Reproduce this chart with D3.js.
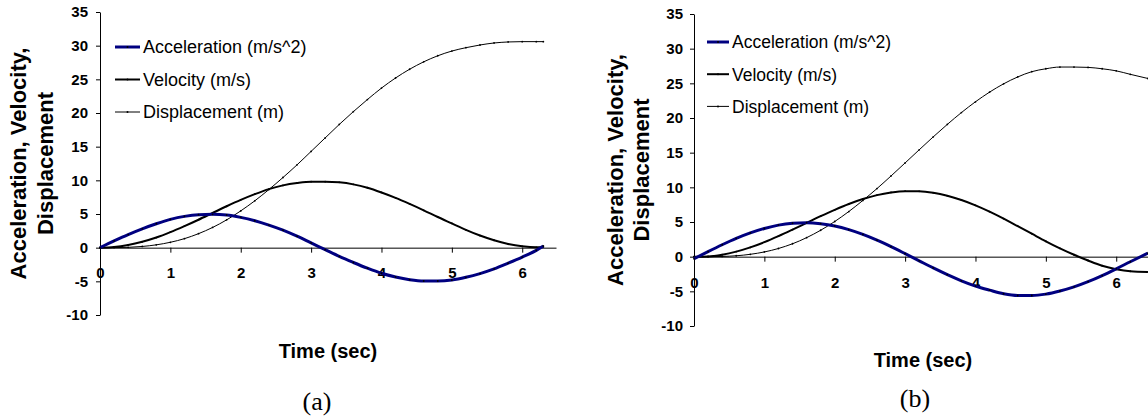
<!DOCTYPE html>
<html>
<head>
<meta charset="utf-8">
<script src="https://cdn.jsdelivr.net/npm/d3@7"></script>
<style>
  body { margin: 0; background: #fff; }
  svg { display: block; }
  .axis path, .axis line { stroke: #000; stroke-width: 1; }
  .axis text { font-family: "Liberation Sans", Arial, sans-serif; font-weight: bold; font-size: 15px; fill: #000; }
</style>
</head>
<body>
<svg id="chart"></svg>
<script>
// time samples (sec)
var timeA = [0, 0.2, 0.4, 0.6, 0.8, 1.0, 1.2, 1.4, 1.6, 1.8, 2.0, 2.2, 2.4, 2.6, 2.8, 3.0, 3.2,
             3.4, 3.6, 3.8, 4.0, 4.2, 4.4, 4.6, 4.8, 5.0, 5.2, 5.4, 5.6, 5.8, 6.0, 6.2, 6.3];
var timeB = [0, 0.2, 0.4, 0.6, 0.8, 1.0, 1.2, 1.4, 1.6, 1.8, 2.0, 2.2, 2.4, 2.6, 2.8, 3.0, 3.2,
             3.4, 3.6, 3.8, 4.0, 4.2, 4.4, 4.6, 4.8, 5.0, 5.2, 5.4, 5.6, 5.8, 6.0, 6.2, 6.45];

// panel (a)
var accelA = [0, 1.0, 1.95, 2.8, 3.55, 4.2, 4.65, 4.9, 4.95, 4.85, 4.5, 4.0, 3.35, 2.6, 1.7, 0.7, -0.3,
              -1.3, -2.2, -3.05, -3.8, -4.35, -4.75, -4.95, -4.95, -4.8, -4.4, -3.85, -3.15, -2.3, -1.4, -0.4, 0.25];
var velA = [0, 0.1, 0.4, 0.87, 1.5, 2.3, 3.2, 4.15, 5.15, 6.15, 7.1, 7.95, 8.7, 9.25, 9.6, 9.8, 9.8,
            9.7, 9.4, 8.9, 8.2, 7.4, 6.5, 5.55, 4.55, 3.6, 2.65, 1.8, 1.1, 0.55, 0.2, 0.05, 0.1];
var dispA = [0, 0.01, 0.05, 0.18, 0.42, 0.8, 1.34, 2.08, 3.0, 4.13, 5.46, 6.96, 8.63, 10.42, 12.3, 14.3, 16.3,
             18.3, 20.2, 22.0, 23.7, 25.2, 26.5, 27.6, 28.5, 29.2, 29.7, 30.1, 30.4, 30.55, 30.6, 30.6, 30.6];

// panel (b)
var accelB = [-0.3, 0.73, 1.72, 2.64, 3.43, 4.07, 4.55, 4.82, 4.9, 4.76, 4.43, 3.9, 3.21, 2.38, 1.44, 0.43, -0.6,
              -1.63, -2.6, -3.48, -4.24, -4.83, -5.35, -5.6, -5.6, -5.4, -4.95, -4.35, -3.6, -2.72, -1.75, -0.73, 0.5];
var velB = [0, 0.04, 0.29, 0.73, 1.34, 2.09, 2.96, 3.9, 4.87, 5.84, 6.76, 7.6, 8.31, 8.88, 9.26, 9.45, 9.43,
            9.21, 8.78, 8.17, 7.4, 6.49, 5.48, 4.4, 3.31, 2.22, 1.2, 0.28, -0.55, -1.3, -1.8, -2.1, -2.2];
var dispB = [0, 0.0, 0.03, 0.13, 0.34, 0.68, 1.18, 1.86, 2.74, 3.81, 5.07, 6.51, 8.11, 9.82, 11.64, 13.52, 15.41,
             17.28, 19.08, 20.78, 22.34, 23.73, 24.93, 25.92, 26.68, 27.1, 27.35, 27.35, 27.3, 27.1, 26.8, 26.3, 25.7];

var seriesNames = ["Acceleration (m/s^2)", "Velocity (m/s)", "Displacement (m)"];
var xTicks = [0, 1, 2, 3, 4, 5, 6];
var yTicks = [-10, -5, 0, 5, 10, 15, 20, 25, 30, 35];

var seriesStyle = [
  {color: "#000080", width: 3},
  {color: "#000", width: 2},
  {color: "#000", width: 1}
];

var svg = d3.select("#chart").attr("width", 1148).attr("height", 419);

function plain(d) { return String(d); }

function drawPanel(p) {
  var x = d3.scaleLinear().domain([0, 6.48]).range([p.left, p.left + 456]);
  var y = d3.scaleLinear().domain([-10, 35]).range([p.bottom, p.top]);

  var g = svg.append("g");

  g.append("g")
    .attr("class", "axis")
    .attr("transform", "translate(" + p.left + ",0)")
    .call(d3.axisLeft(y).tickValues(yTicks).tickFormat(plain)
      .tickSize(4).tickSizeOuter(0).tickPadding(p.yPad));

  g.append("g")
    .attr("class", "axis")
    .attr("transform", "translate(0," + y(0) + ")")
    .call(d3.axisBottom(x).tickValues(xTicks).tickFormat(plain)
      .tickSize(5).tickSizeOuter(0).tickPadding(p.xPad));

  var series = [p.accel, p.vel, p.disp];
  var line = d3.line()
    .x(function(d){ return x(d[0]); })
    .y(function(d){ return y(d[1]); })
    .curve(d3.curveMonotoneX);

  // displacement first, acceleration on top
  [2, 1, 0].forEach(function(k){
    var pts = p.time.map(function(t, i){ return [t, series[k][i]]; });
    g.append("path")
      .datum(pts)
      .attr("fill", "none")
      .attr("stroke", seriesStyle[k].color)
      .attr("stroke-width", seriesStyle[k].width)
      .attr("stroke-linejoin", "round")
      .attr("d", line);
    g.selectAll(null)
      .data(pts)
      .enter()
      .append("circle")
      .attr("cx", function(d){ return x(d[0]); })
      .attr("cy", function(d){ return y(d[1]); })
      .attr("r", 0.9)
      .attr("fill", "#000");
  });

  // legend
  seriesNames.forEach(function(name, k){
    var ly = p.legY + k * p.legStep;
    g.append("line")
      .attr("x1", p.legX).attr("x2", p.legX + p.legLen)
      .attr("y1", ly).attr("y2", ly)
      .attr("stroke", seriesStyle[k].color)
      .attr("stroke-width", seriesStyle[k].width);
    g.append("circle")
      .attr("cx", p.legX + p.legLen / 2).attr("cy", ly)
      .attr("r", 1).attr("fill", "#000");
    g.append("text")
      .attr("x", p.legX + p.legLen + 3)
      .attr("y", ly)
      .attr("dy", "0.36em")
      .style("font-family", "'Liberation Sans', Arial, sans-serif")
      .style("font-size", p.legFont + "px")
      .text(name);
  });

  // y axis title, two lines
  var cy = (p.top + p.bottom) / 2;
  [["Acceleration, Velocity,", p.title1X], ["Displacement", p.title2X]].forEach(function(t){
    g.append("text")
      .attr("transform", "translate(" + t[1] + "," + cy + ") rotate(-90)")
      .attr("text-anchor", "middle")
      .style("font-family", "'Liberation Sans', Arial, sans-serif")
      .style("font-weight", "bold")
      .style("font-size", "22px")
      .text(t[0]);
  });

  // x axis title
  g.append("text")
    .attr("x", p.xTitleX).attr("y", p.xTitleY)
    .attr("text-anchor", "middle")
    .style("font-family", "'Liberation Sans', Arial, sans-serif")
    .style("font-weight", "bold")
    .style("font-size", "20px")
    .text("Time (sec)");

  // caption
  g.append("text")
    .attr("x", p.capX).attr("y", p.capY)
    .attr("text-anchor", "middle")
    .style("font-family", "'Liberation Serif', 'Times New Roman', serif")
    .style("font-size", "26px")
    .text(p.caption);
}

drawPanel({
  time: timeA, accel: accelA, vel: velA, disp: dispA,
  left: 100, top: 12, bottom: 315, yPad: 8, xPad: 15,
  legX: 115, legY: 47, legStep: 32.5, legLen: 25, legFont: 18,
  title1X: 26, title2X: 53, xTitleX: 328, xTitleY: 358,
  capX: 317, capY: 410, caption: "(a)"
});

drawPanel({
  time: timeB, accel: accelB, vel: velB, disp: dispB,
  left: 694, top: 14, bottom: 326, yPad: 7, xPad: 16,
  legX: 707, legY: 42, legStep: 32.2, legLen: 22, legFont: 17.5,
  title1X: 623, title2X: 649, xTitleX: 923, xTitleY: 367,
  capX: 915, capY: 407, caption: "(b)"
});
</script>
</body>
</html>
